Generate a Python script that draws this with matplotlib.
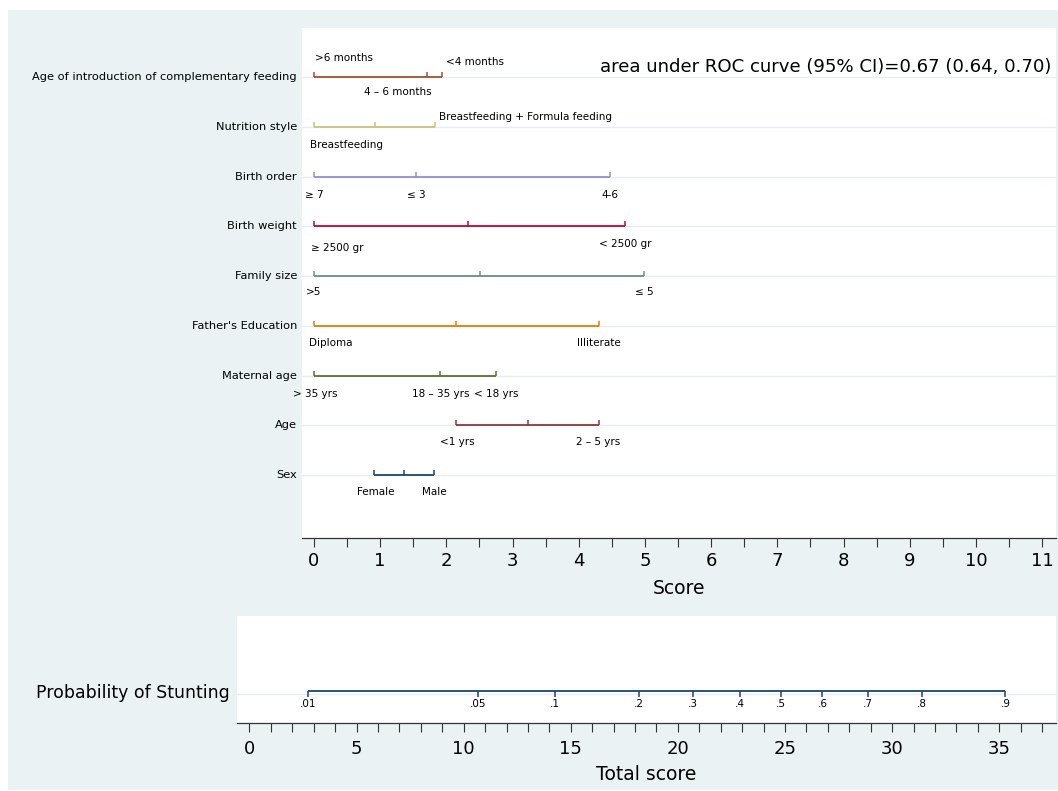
import matplotlib
matplotlib.use("Agg")
import matplotlib.pyplot as plt
from matplotlib.patches import Rectangle
from matplotlib.ticker import MultipleLocator

# ---------------- data ----------------
row_names = [
    "Age of introduction of complementary feeding",
    "Nutrition style",
    "Birth order",
    "Birth weight",
    "Family size",
    "Father's Education",
    "Maternal age",
    "Age",
    "Sex",
]

# score positions of the category points of each row (top to bottom)
intro_pts = [0.0, 1.71, 1.94]
nutrition_pts = [0.0, 0.915, 1.825]
birth_order_pts = [0.0, 1.54, 4.47]
birth_weight_pts = [0.0, 2.33, 4.70]
family_pts = [0.0, 2.51, 4.99]
father_pts = [0.0, 2.15, 4.31]
maternal_pts = [0.0, 1.91, 2.75]
age_pts = [2.15, 3.23, 4.30]
sex_pts = [0.91, 1.355, 1.82]

# category labels: (text, anchor score, horizontal alignment, vertical offset px)
intro_labels = [(">6 months", 0.02, "left", 19), ("<4 months", 1.99, "left", 15),
                ("4 \u2013 6 months", 1.77, "right", -15)]
nutrition_labels = [("Breastfeeding + Formula feeding", 1.89, "left", 10),
                    ("Breastfeeding", -0.06, "left", -18)]
birth_order_labels = [("\u2265 7", 0.0, "center", -18), ("\u2264 3", 1.54, "center", -18),
                      ("4-6", 4.47, "center", -18)]
birth_weight_labels = [("\u2265 2500 gr", -0.05, "left", -22), ("< 2500 gr", 4.70, "center", -18)]
family_labels = [(">5", 0.0, "center", -16), ("\u2264 5", 4.99, "center", -16)]
father_labels = [("Diploma", -0.07, "left", -17), ("Illiterate", 4.31, "center", -17)]
maternal_labels = [("> 35 yrs", 0.02, "center", -18), ("18 \u2013 35 yrs", 1.91, "center", -18),
                   ("< 18 yrs", 2.75, "center", -18)]
age_labels = [("<1 yrs", 2.16, "center", -17), ("2 \u2013 5 yrs", 4.29, "center", -17)]
sex_labels = [("Female", 0.93, "center", -17), ("Male", 1.82, "center", -17)]

row_points = [intro_pts, nutrition_pts, birth_order_pts, birth_weight_pts, family_pts,
              father_pts, maternal_pts, age_pts, sex_pts]
row_labels = [intro_labels, nutrition_labels, birth_order_labels, birth_weight_labels,
              family_labels, father_labels, maternal_labels, age_labels, sex_labels]
row_colors = ["#A0522D", "#CAC27E", "#938DD2", "#C10534", "#6E8E84",
              "#E37E00", "#55752F", "#90353B", "#1A476F"]

score_ticks = list(range(0, 12))

prob_labels = [".01", ".05", ".1", ".2", ".3", ".4", ".5", ".6", ".7", ".8", ".9"]
prob_total_score = [2.72, 10.69, 14.25, 18.18, 20.70, 22.88, 24.80, 26.75, 28.89, 31.41, 35.29]
total_ticks = [0, 5, 10, 15, 20, 25, 30, 35]

auc_text = "area under ROC curve (95% CI)=0.67 (0.64, 0.70)"

# ---------------- style ----------------
BG = "#EAF2F3"
GRID = "#E6EEF1"
AXC = "#333333"
W, H = 1058, 791

fig = plt.figure(figsize=(W / 100, H / 100), dpi=100, facecolor="white")
fig.patches.append(Rectangle((8 / W, 1 / H), (W - 8) / W, (790 - 10) / H,
                             transform=fig.transFigure, facecolor=BG,
                             edgecolor="none", zorder=-10))


def rect(l, t, r, b):
    return [l / W, (H - b) / H, (r - l) / W, (b - t) / H]


# ---------------- top panel ----------------
ax = fig.add_axes(rect(302, 28, 1056, 538))
ax.set_facecolor("white")
n = len(row_names)
row_y = [n - i for i in range(n)]
ax.set_xlim(-0.181, 11.21)
ax.set_ylim(-0.266, 9.985)
tick_h = 0.1

for y in row_y:
    ax.axhline(y, color=GRID, lw=1.0, zorder=1)

for y, pts, labs, col in zip(row_y, row_points, row_labels, row_colors):
    ax.plot([min(pts), max(pts)], [y, y], color=col, lw=1.3, solid_capstyle="butt", zorder=3)
    ax.vlines(pts, y, y + tick_h, color=col, lw=1.1, zorder=3)
    for txt, xv, ha, dy in labs:
        ax.annotate(txt, (xv, y), xytext=(0, dy), textcoords="offset pixels",
                    ha=ha, va="center", fontsize=7.5, color="black")

for name, y in zip(row_names, row_y):
    ax.annotate(name, (0, y), xycoords=("axes fraction", "data"), xytext=(-5, 0),
                textcoords="offset pixels", ha="right", va="center", fontsize=8.2,
                color="black", annotation_clip=False)

ax.text((600 - 302) / (1056 - 302), (538 - 67) / (538 - 28), auc_text,
        transform=ax.transAxes, ha="left", va="center", fontsize=13.1)

for s in ["top", "right", "left"]:
    ax.spines[s].set_visible(False)
ax.spines["bottom"].set_color(AXC)
ax.spines["bottom"].set_linewidth(0.9)
ax.set_yticks([])
ax.set_xticks(score_ticks)
ax.xaxis.set_minor_locator(MultipleLocator(0.5))
ax.tick_params(axis="x", which="both", direction="out", length=6.5, width=0.8,
               color=AXC)
ax.tick_params(axis="x", which="major", labelsize=13, pad=3.5)
ax.set_xlabel("Score", fontsize=13.5, labelpad=6.5)

# ---------------- bottom panel ----------------
ax2 = fig.add_axes(rect(237, 616, 1056, 723))
ax2.set_facecolor("white")
ax2.set_xlim(-0.58, 37.65)
ax2.set_ylim(0, 1)
py = (723 - 690.6) / (723 - 616)
ax2.axhline(py - 0.03, color=GRID, lw=1.0, zorder=1)
ax2.plot([min(prob_total_score), max(prob_total_score)], [py, py], color="#1A476F",
         lw=1.3, solid_capstyle="butt", zorder=3)
ax2.vlines(prob_total_score, py - 0.06, py, color="#1A476F", lw=1.1, zorder=3)
for lab, xv in zip(prob_labels, prob_total_score):
    ax2.annotate(lab, (xv, py), xytext=(0, -13.5), textcoords="offset pixels",
                 ha="center", va="center", fontsize=7.5)
ax2.annotate("Probability of Stunting", (0, py), xycoords=("axes fraction", "data"),
             xytext=(-7, -2), textcoords="offset pixels", ha="right", va="center",
             fontsize=12.5, annotation_clip=False)

for s in ["top", "right", "left"]:
    ax2.spines[s].set_visible(False)
ax2.spines["bottom"].set_color(AXC)
ax2.spines["bottom"].set_linewidth(0.9)
ax2.set_yticks([])
ax2.set_xticks(total_ticks)
ax2.xaxis.set_minor_locator(MultipleLocator(1))
ax2.tick_params(axis="x", which="both", direction="out", length=6.5, width=0.8,
                color=AXC)
ax2.tick_params(axis="x", which="major", labelsize=13, pad=5.5)
ax2.set_xlabel("Total score", fontsize=13.5, labelpad=5)

fig.savefig("out.png", dpi=100, facecolor=fig.get_facecolor())
